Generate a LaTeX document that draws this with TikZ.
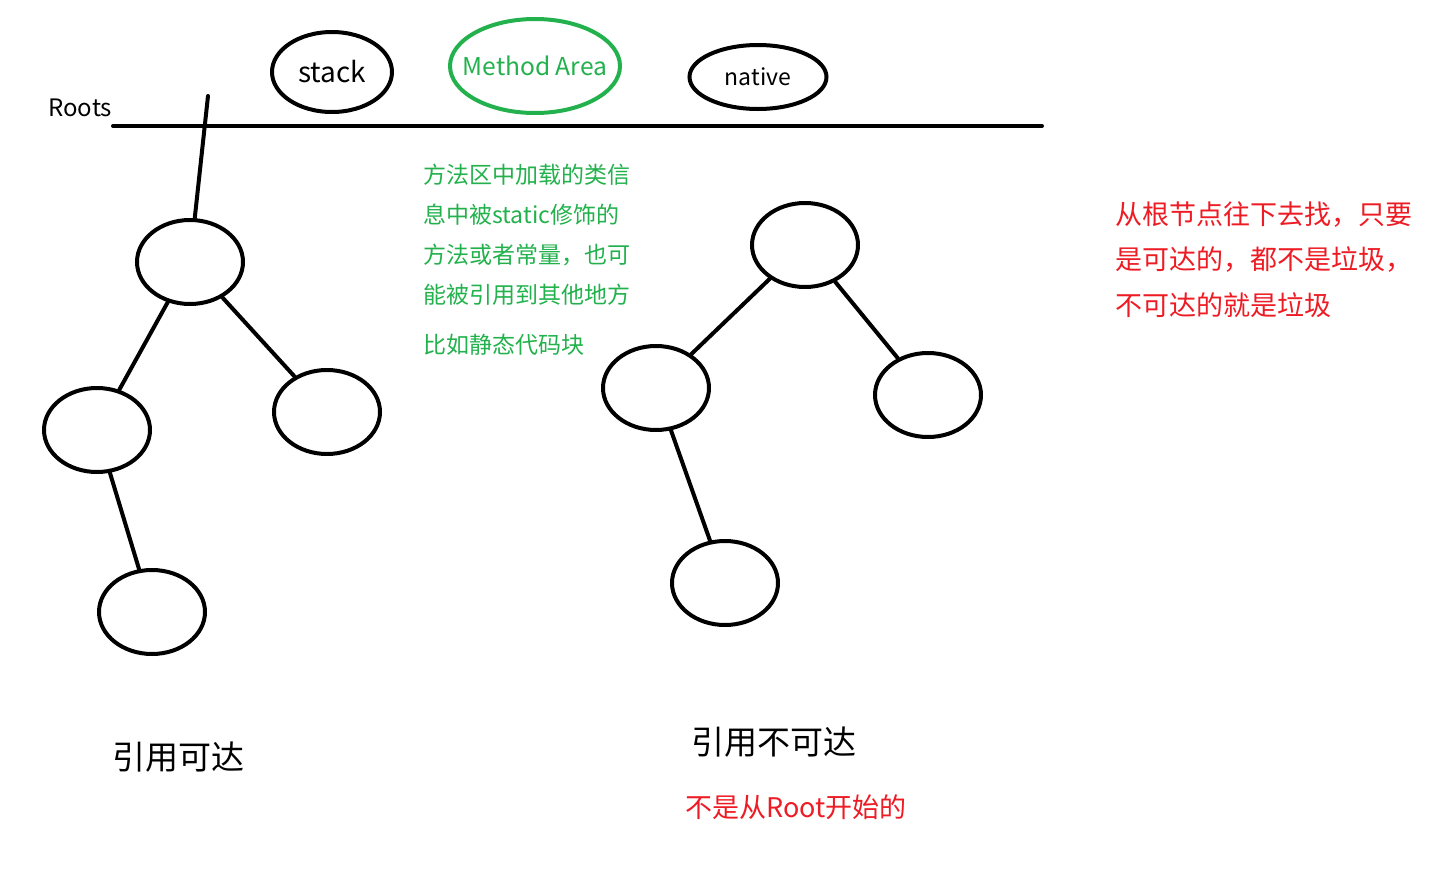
\documentclass[tikz,border=0pt]{standalone}
\usepackage{fontspec}
\setmainfont{Noto Sans CJK SC}
\usetikzlibrary{shapes.geometric}
\definecolor{paintgreen}{RGB}{34,177,76}
\definecolor{paintred}{RGB}{237,28,36}
\begin{document}
\begin{tikzpicture}[x=0.5pt,y=-0.5pt,
  obj/.style={draw,ellipse,line width=2pt,minimum width=53pt,minimum height=42pt,inner sep=0pt},
  edge/.style={line width=2pt,line cap=round},
  note/.style={anchor=west,inner sep=0pt},
  greennote/.style={note,text=paintgreen,font=\fontsize{11.5pt}{14pt}\selectfont},
  rednote/.style={note,text=paintred,font=\fontsize{13.5pt}{16pt}\selectfont}]
\useasboundingbox (0,0) rectangle (1452,868);

%roots line
\coordinate (lineL) at (113,126);
\coordinate (lineR) at (1042,126);
\draw[edge] (lineL) -- (lineR);
\node[note,font=\fontsize{12pt}{14pt}\selectfont] (roots) at (48,108) {Roots};

%gc roots
\node[obj,minimum width=60pt,minimum height=40pt,
  label={[font=\fontsize{14pt}{16pt}\selectfont]center:stack}] (stack) at (332,72) {};
\node[obj,draw=paintgreen,minimum width=85pt,minimum height=47pt,
  label={[text=paintgreen,font=\fontsize{12.3pt}{14pt}\selectfont]center:Method Area}] (method) at (535,66) {};
\node[obj,minimum width=68.5pt,minimum height=32pt,
  label={[font=\fontsize{11.5pt}{14pt}\selectfont]center:native}] (native) at (758,77) {};

%reachable objects
\node[obj] (la) at (190,262) {};
\node[obj] (lb) at (97,430) {};
\node[obj] (lc) at (327,412) {};
\node[obj] (ld) at (152,612) {};

%unreachable objects
\node[obj] (ua) at (805,245) {};
\node[obj] (ub) at (656,388) {};
\node[obj] (uc) at (928,395) {};
\node[obj] (ud) at (725,583) {};

%references
\coordinate (rootref) at (208,96);
\draw[edge] (rootref) -- (la);
\draw[edge] (la) -- (lb);
\draw[edge] (la) -- (lc);
\draw[edge] (lb) -- (ld);
\draw[edge] (ua) -- (ub);
\draw[edge] (ua) -- (uc);
\draw[edge] (ub) -- (ud);

%method area note
\node[greennote] (g1) at (423,175) {方法区中加载的类信};
\node[greennote] (g2) at (423,215) {息中被static修饰的};
\node[greennote] (g3) at (423,255) {方法或者常量，也可};
\node[greennote] (g4) at (423,295) {能被引用到其他地方};
\node[greennote] (g5) at (423,345) {比如静态代码块};

%remark
\node[rednote] (r1) at (1115,215) {从根节点往下去找，只要};
\node[rednote] (r2) at (1115,260) {是可达的，都不是垃圾，};
\node[rednote] (r3) at (1115,305) {不可达的就是垃圾};

%labels
\node[font=\fontsize{16.5pt}{19pt}\selectfont] (reach) at (178,757) {引用可达};
\node[font=\fontsize{16.5pt}{19pt}\selectfont] (unreach) at (774,742) {引用不可达};
\node[text=paintred,font=\fontsize{13.5pt}{16pt}\selectfont] (notroot) at (796,807) {不是从Root开始的};

\end{tikzpicture}
\end{document}
